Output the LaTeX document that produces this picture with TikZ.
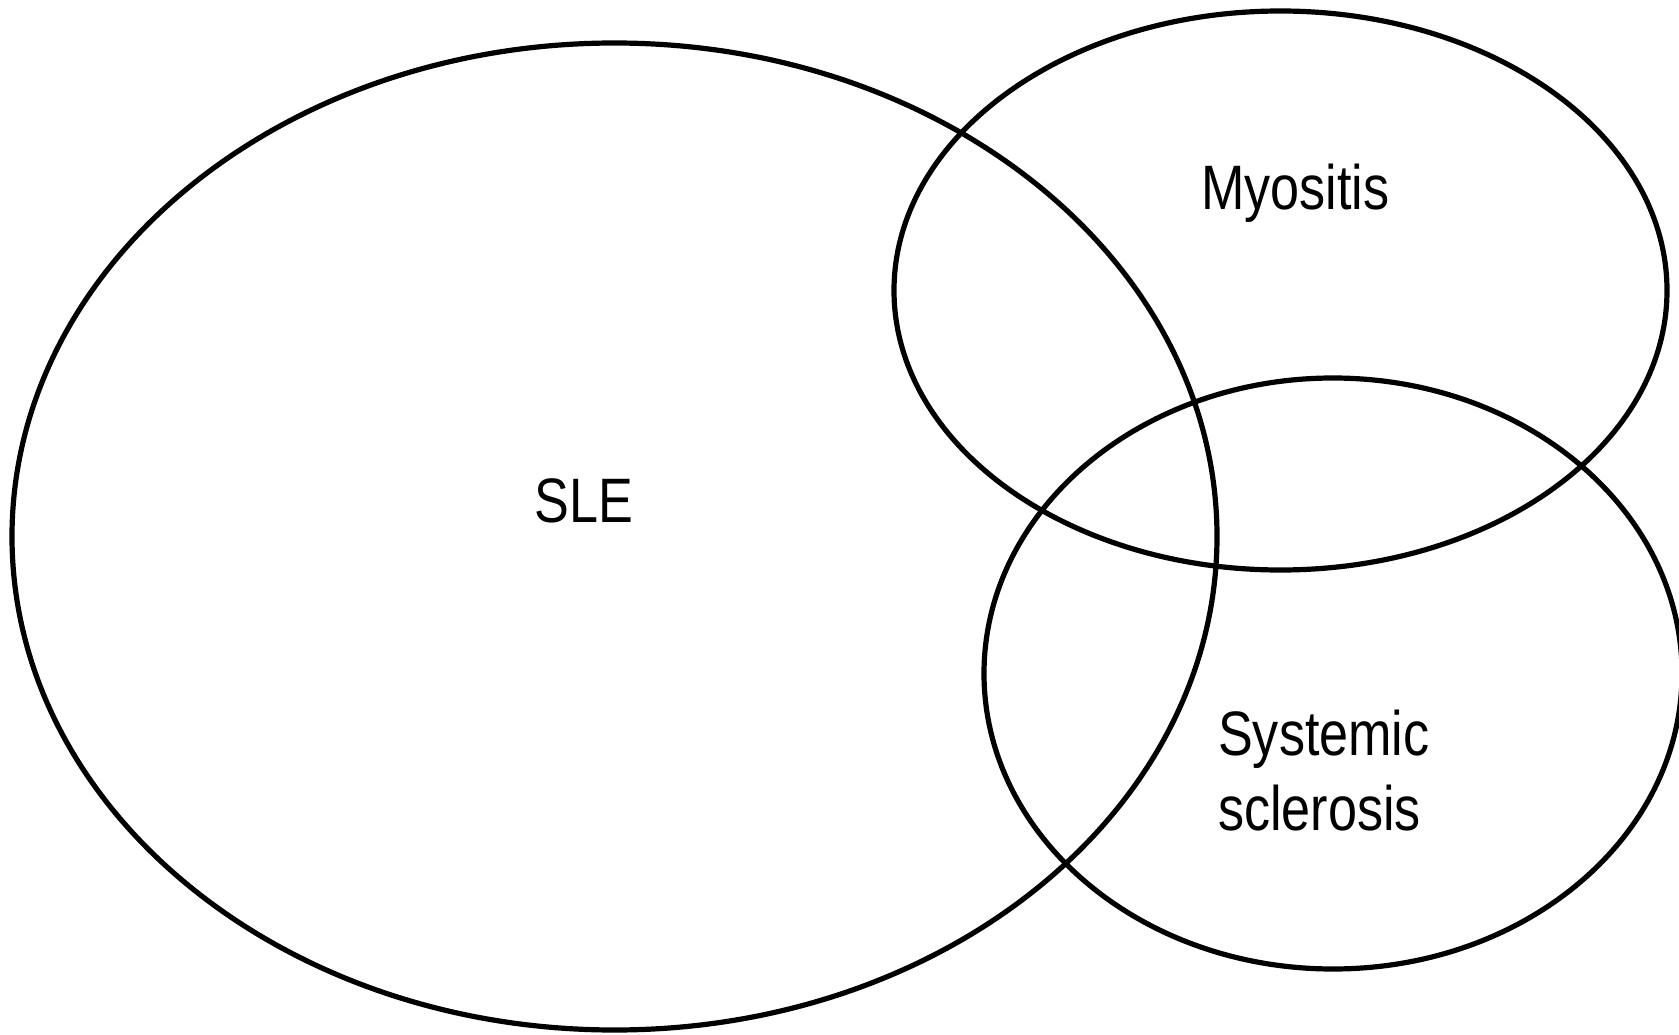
\documentclass[tikz,border=0pt]{standalone}
\usepackage{fontspec}
\newfontfamily\lblfont{Liberation Sans}[FakeStretch=0.83]
\usetikzlibrary{shapes.geometric}
\begin{document}
\begin{tikzpicture}[x=1pt,y=-1pt,
  setellipse/.style={ellipse, draw=black, line width=5.2pt, inner sep=0pt},
  setlabel/.style={font=\lblfont\fontsize{62.8}{63}\selectfont, inner sep=0pt}]
  \useasboundingbox (0,0) rectangle (1679,1035);
  % the three sets
  \node[setellipse, minimum width=1205pt, minimum height=987pt] (sle) at (614.5,536.5) {};
  \node[setellipse, minimum width=773pt, minimum height=559pt] (myo) at (1280.5,290.5) {};
  \node[setellipse, minimum width=698pt, minimum height=591pt] (ssc) at (1333,673.5) {};
  % set names
  \node[setlabel, anchor=base] (slelabel) at (584,522) {SLE};
  \node[setlabel, anchor=base] (myolabel) at (1295.5,210) {Myositis};
  \node[setlabel, anchor=base west] (ssclabel1) at (1218,755) {Systemic};
  \node[setlabel, anchor=base west] (ssclabel2) at (1218,830) {sclerosis};
\end{tikzpicture}
\end{document}
